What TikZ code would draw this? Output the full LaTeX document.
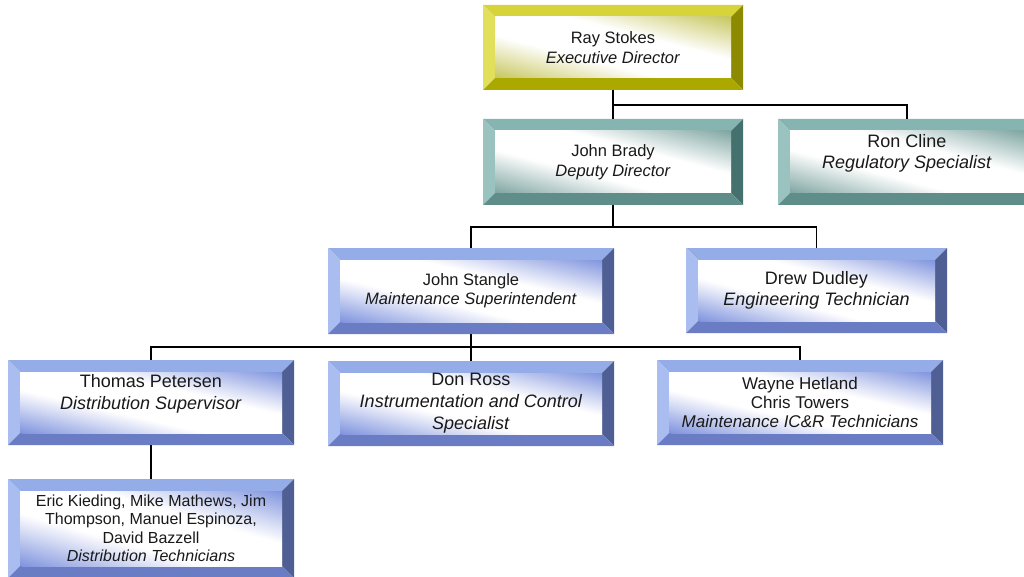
\documentclass[tikz,border=0pt]{standalone}
\usepackage{fontspec}
\setmainfont{Liberation Sans}
\usetikzlibrary{calc}
\definecolor{yT}{HTML}{D6D43A}\definecolor{yL}{HTML}{E2E05A}\definecolor{yR}{HTML}{8C8A00}\definecolor{yB}{HTML}{ABA800}\definecolor{yI}{HTML}{C8C760}
\definecolor{tT}{HTML}{86B5B1}\definecolor{tL}{HTML}{9AC3BF}\definecolor{tR}{HTML}{44716D}\definecolor{tB}{HTML}{5F8E8A}\definecolor{tI}{HTML}{7FA6A2}
\definecolor{bT}{HTML}{94ACE8}\definecolor{bL}{HTML}{AABDF0}\definecolor{bR}{HTML}{4F5F94}\definecolor{bB}{HTML}{6A7DC4}\definecolor{bI}{HTML}{8094DE}
\newcommand\bwn{12}
\newcommand\bw{\bwn pt}
% diagonal glow: white along the top-left/bottom-right diagonal, tinted toward the other two corners
\newcommand\glow[3]{%
  \pgfmathsetmacro\gW{#2-2*\bwn}\pgfmathsetmacro\gH{#3-2*\bwn}%
  \begin{scope}
  \clip (sw) rectangle (ne);
  \foreach \i in {0,...,59}{%
    \pgfmathsetmacro\ca{\i/30}%
    \pgfmathsetmacro\cb{(\i+1.3)/30}%
    \pgfmathsetmacro\gt{min(1,max(0,(abs((\i+0.5)/30-1)-0.3)/0.7))*100}%
    \fill[#1!\gt!white] ($(sw)+({(\ca+1)*\gW pt},{-\gH pt})$) -- ($(sw)+({(\cb+1)*\gW pt},{-\gH pt})$) -- ($(sw)+({(\cb-2)*\gW pt},{2*\gH pt})$) -- ($(sw)+({(\ca-2)*\gW pt},{2*\gH pt})$) -- cycle;
  }
  \end{scope}}
\tikzset{
  orgbox/.style n args={7}{
    inner sep=0pt, outer sep=0pt, align=center, text=black!90,
    minimum width=#6pt, minimum height=#7pt,
    path picture={
      \coordinate (NW) at (path picture bounding box.north west);
      \coordinate (NE) at (path picture bounding box.north east);
      \coordinate (SE) at (path picture bounding box.south east);
      \coordinate (SW) at (path picture bounding box.south west);
      \coordinate (nw) at ($(NW)+(\bw,-\bw)$);
      \coordinate (ne) at ($(NE)+(-\bw,-\bw)$);
      \coordinate (se) at ($(SE)+(-\bw,\bw)$);
      \coordinate (sw) at ($(SW)+(\bw,\bw)$);
      \fill[#1] (NW)--(NE)--(ne)--(nw)--cycle;
      \fill[#2] (NW)--(nw)--(sw)--(SW)--cycle;
      \fill[#3] (NE)--(SE)--(se)--(ne)--cycle;
      \fill[#4] (SW)--(sw)--(se)--(SE)--cycle;
      \glow{#5}{#6}{#7}
    }
  },
  ybox/.style 2 args={orgbox={yT}{yL}{yR}{yB}{yI}{#1}{#2}},
  tbox/.style 2 args={orgbox={tT}{tL}{tR}{tB}{tI}{#1}{#2}},
  bbox/.style 2 args={orgbox={bT}{bL}{bR}{bB}{bI}{#1}{#2}},
  conn/.style={line width=1.6pt, black},
  fs/.style 2 args={font=\fontsize{#1}{#2}\selectfont}
}
\begin{document}
\begin{tikzpicture}[x=1pt,y=-1pt]
\clip (0,0) rectangle (1024,577);
\node[ybox={260}{85}, fs={16.5}{20}] (ray) at (613,47.5) {Ray Stokes\\\textit{Executive Director}};
\node[tbox={260}{86}, fs={16.5}{20}] (brady) at (613,162) {John Brady\\\textit{Deputy Director}};
\node[tbox={258}{86}, fs={18}{21}] (ron) at (907,162) {Ron Cline\\\textit{Regulatory Specialist}\\\mbox{}};
\node[bbox={286}{86}, fs={16.5}{19}] (stangle) at (471,291) {John Stangle\\\textit{Maintenance Superintendent}};
\node[bbox={261}{85}, fs={18}{21}] (drew) at (816.5,290.5) {Drew Dudley\\\textit{Engineering Technician}};
\node[bbox={286}{85}, fs={18}{22}] (thomas) at (151,402.5) {Thomas Petersen\\\textit{Distribution Supervisor}\\\mbox{}};
\node[bbox={286}{85}, fs={18}{22}] (don) at (471,403.5) {Don Ross\\\textit{Instrumentation and Control}\\\textit{Specialist}};
\node[bbox={286}{85}, fs={17}{19}] (wayne) at (800,402.5) {Wayne Hetland\\Chris Towers\\\textit{Maintenance IC\&R Technicians}};
\node[bbox={286}{99}, fs={16}{18.5}] (eric) at (151,528.5) {Eric Kieding, Mike Mathews, Jim\\Thompson, Manuel Espinoza,\\David Bazzell\\\textit{Distribution Technicians}};
\draw[conn] (ray.south) -- (brady.north);
\draw[conn] (ray.south) -- ++(0,15) -| (ron.north);
\draw[conn] (brady.south) -- ++(0,22) -| (stangle.north);
\draw[conn] (brady.south) -- ++(0,22) -| (drew.north);
\draw[conn] (stangle.south) -- ++(0,13) -| (thomas.north);
\draw[conn] (stangle.south) -- (don.north);
\draw[conn] (stangle.south) -- ++(0,13) -| (wayne.north);
\draw[conn] (thomas.south) -- (eric.north);
\end{tikzpicture}
\end{document}
